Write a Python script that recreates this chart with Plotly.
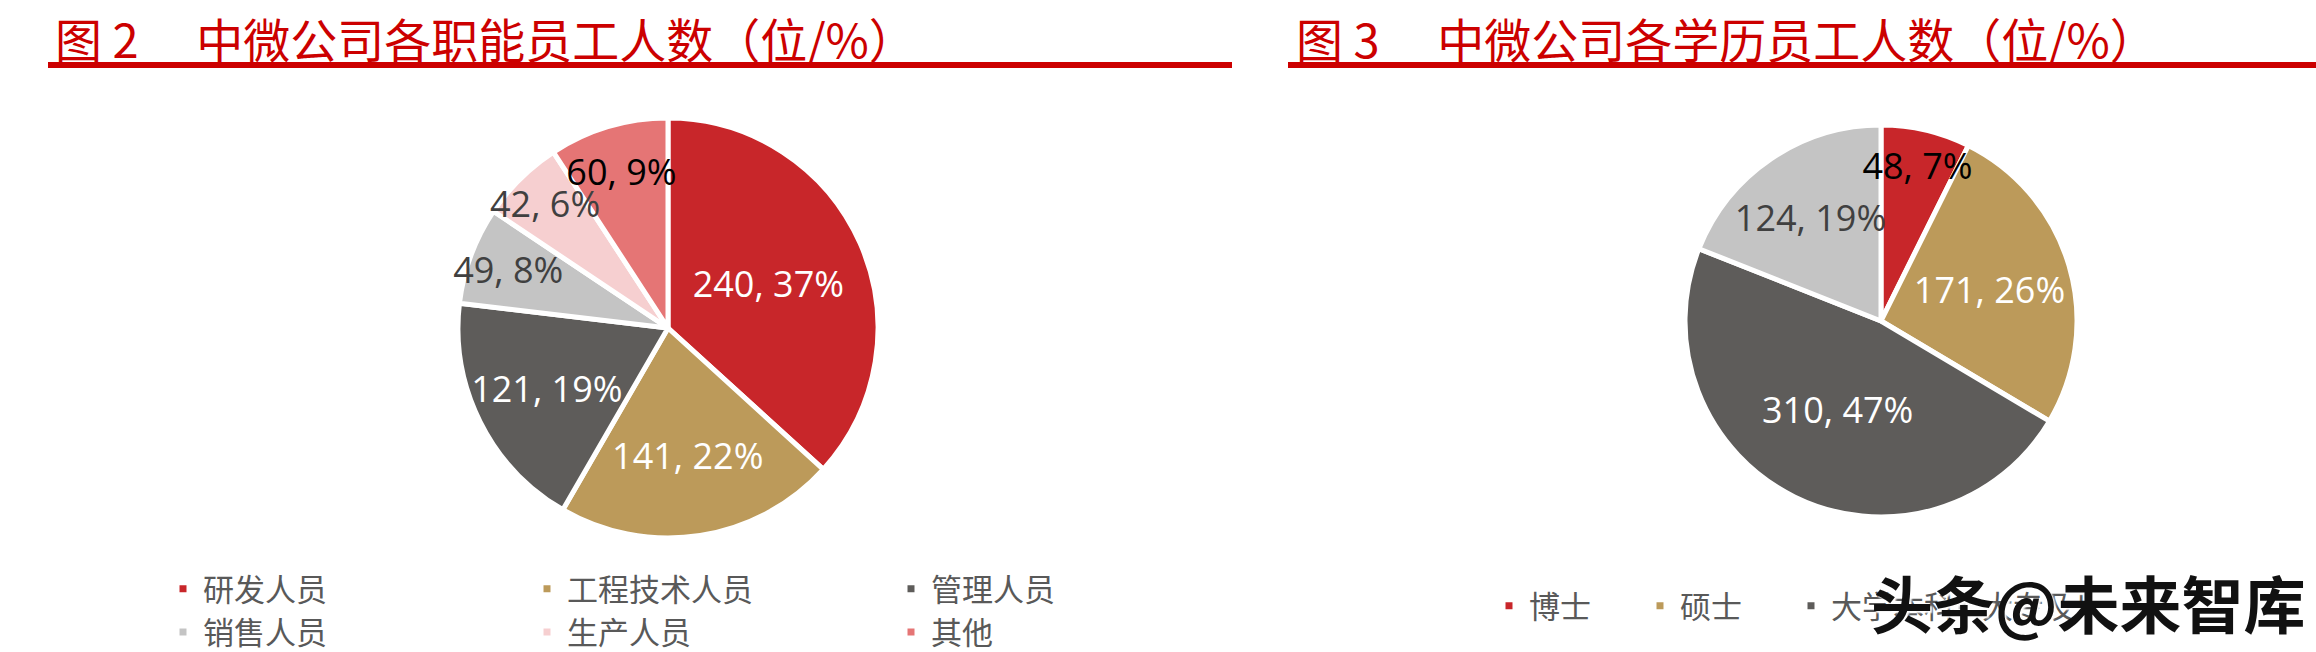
import plotly.graph_objects as go

# ---------------- data ----------------
func_labels = ["研发人员", "工程技术人员", "管理人员", "销售人员", "生产人员", "其他"]
func_values = [240, 141, 121, 49, 42, 60]
func_colors = ["#C8262A", "#BC9A5A", "#5E5C5A", "#C4C4C4", "#F6CFD0", "#E57575"]
func_text_colors = ["#FFFFFF", "#FFFFFF", "#FFFFFF", "#404040", "#404040", "#000000"]

edu_labels = ["博士", "硕士", "大学本科", "大专及以下"]
edu_values = [48, 171, 310, 124]
edu_colors = ["#C8262A", "#BC9A5A", "#5E5C5A", "#C4C4C4"]
edu_text_colors = ["#000000", "#FFFFFF", "#FFFFFF", "#404040"]

title_left = "图 2\u3000 中微公司各职能员工人数（位/%）"
title_right = "图 3\u3000 中微公司各学历员工人数（位/%）"
watermark = "头条@未来智库"

# ---------------- layout helpers ----------------
W, H = 2316, 652
ML = 200
PW = W - ML


def px_x(p):
    return (p - ML) / PW


def px_y(p):
    return (H - p) / H


CJK = "Noto Sans CJK SC"
NUM = "Open Sans"

fig = go.Figure()


def add_pie(labels, values, colors, text_colors, dom_x, dom_y, legend_id):
    # slices (with legend)
    fig.add_trace(go.Pie(
        labels=labels, values=values, sort=False, direction="clockwise", rotation=0,
        marker=dict(colors=colors, line=dict(color="#FFFFFF", width=5)),
        textinfo="none", domain=dict(x=dom_x, y=dom_y),
        legend=legend_id, hoverinfo="label+value+percent",
    ))
    # data labels drawn above all slices
    fig.add_trace(go.Pie(
        labels=labels, values=values, sort=False, direction="clockwise", rotation=0,
        marker=dict(colors=["rgba(0,0,0,0)"] * len(values), line=dict(width=0)),
        texttemplate="%{value}, %{percent:.0%}", textposition="inside",
        insidetextorientation="horizontal",
        textfont=dict(family=NUM, size=36, color=text_colors),
        domain=dict(x=dom_x, y=dom_y), showlegend=False,
        legend=legend_id, hoverinfo="skip",
    ))


add_pie(func_labels, func_values, func_colors, func_text_colors,
        [px_x(458), px_x(878)], [px_y(538), px_y(118)], "legend")
add_pie(edu_labels, edu_values, edu_colors, edu_text_colors,
        [px_x(1685), px_x(2077)], [px_y(517), px_y(125)], "legend2")

legend_font = dict(family=CJK, size=31, color="#595959")

annotations = [
    dict(text=title_left, x=px_x(53), y=px_y(37), xref="paper", yref="paper",
         xanchor="left", yanchor="middle", showarrow=False,
         font=dict(family=CJK, size=47, color="#CC0000")),
    dict(text=title_right, x=px_x(1294), y=px_y(37), xref="paper", yref="paper",
         xanchor="left", yanchor="middle", showarrow=False,
         font=dict(family=CJK, size=47, color="#CC0000")),
    dict(text=watermark, x=px_x(2088), y=px_y(602), xref="paper", yref="paper",
         xanchor="center", yanchor="middle", showarrow=False,
         font=dict(family=CJK, size=62, color="#111111", weight="bold",
                   shadow="2px 2px 2px white")),
]

shapes = [
    dict(type="rect", xref="paper", yref="paper", x0=px_x(48), x1=px_x(1232),
         y0=px_y(68), y1=px_y(62), fillcolor="#CC0000", line=dict(width=0)),
    dict(type="rect", xref="paper", yref="paper", x0=px_x(1288), x1=px_x(2316),
         y0=px_y(68), y1=px_y(62), fillcolor="#CC0000", line=dict(width=0)),
]

fig.update_layout(
    width=W, height=H,
    margin=dict(l=ML, r=0, t=0, b=0, autoexpand=False),
    paper_bgcolor="#FFFFFF", plot_bgcolor="#FFFFFF",
    uniformtext=dict(minsize=36, mode="show"),
    legend=dict(orientation="h", x=px_x(163), xanchor="left", y=px_y(562), yanchor="top",
                entrywidth=319, entrywidthmode="pixels", font=legend_font,
                bgcolor="rgba(0,0,0,0)", traceorder="normal"),
    legend2=dict(orientation="h", x=px_x(1489), xanchor="left", y=px_y(579), yanchor="top",
                 entrywidth=106, entrywidthmode="pixels", font=legend_font,
                 bgcolor="rgba(0,0,0,0)", traceorder="normal"),
    annotations=annotations, shapes=shapes,
)

fig.write_html("out.html", config={"displayModeBar": False},
               post_script="document.body.style.margin='0';")
